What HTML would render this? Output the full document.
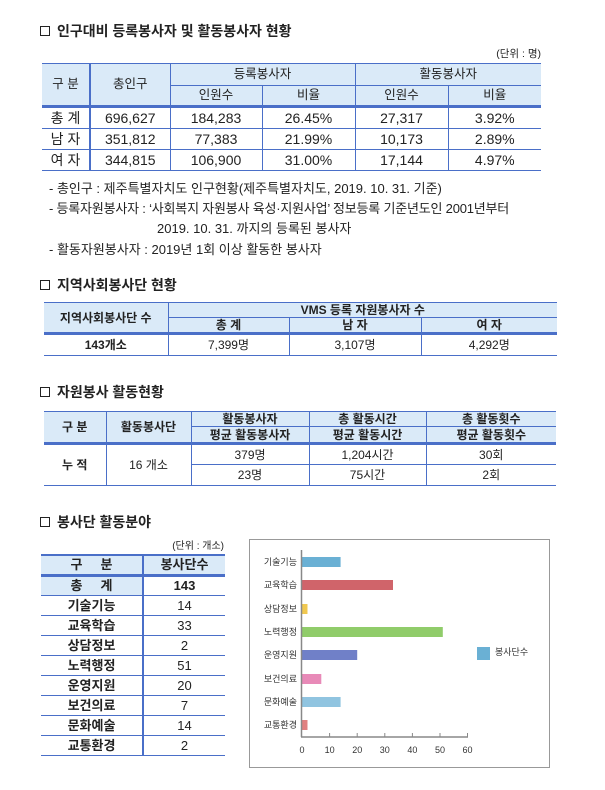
<!DOCTYPE html>
<html><head><meta charset="utf-8">
<style>
*{margin:0;padding:0;box-sizing:border-box}
body{width:605px;height:790px;background:#fff;position:relative;overflow:hidden;font-family:"Liberation Sans","Noto Sans CJK KR",sans-serif;color:#222}
.a{position:absolute;white-space:nowrap}
.t{font-size:14px;font-weight:bold;line-height:18px}
.sq{display:inline-block;width:10px;height:10px;border:1.3px solid #222;margin-right:7px;vertical-align:0px}
table{position:absolute;border-collapse:collapse;table-layout:fixed}
td{text-align:center;border-top:1px solid #4a6fc8;border-bottom:1px solid #4a6fc8;border-left:1px solid #4a6fc8;padding:0;font-size:13px;line-height:1}
td:first-child{border-left:none}
.h{background:#daeaf8}
.t1 td{font-size:14px}
.t1 td.h{font-size:12.5px}
</style></head><body>

<div class="a t" style="left:40px;top:22px"><span class="sq"></span>인구대비 등록봉사자 및 활동봉사자 현황</div>
<div class="a" style="left:470px;top:46px;font-size:10.5px;width:71px;text-align:right">(단위 : 명)</div>
<table class="t1" style="left:42px;top:63px;width:499px">
<colgroup><col style="width:48px"><col style="width:80px"><col style="width:92px"><col style="width:93px"><col style="width:93px"><col style="width:93px"></colgroup>
<tr style="height:22px"><td class="h" rowspan="2" style="border-right:2px solid #4a6fc8">구 분</td><td class="h" rowspan="2">총인구</td><td class="h" colspan="2">등록봉사자</td><td class="h" colspan="2">활동봉사자</td></tr>
<tr style="height:21px"><td class="h" style="border-left:1px solid #4a6fc8">인원수</td><td class="h">비율</td><td class="h">인원수</td><td class="h">비율</td></tr>
<tr style="height:22px"><td style="border-top:3px solid #4a6fc8;border-right:2px solid #4a6fc8">총 계</td><td style="border-top:3px solid #4a6fc8">696,627</td><td style="border-top:3px solid #4a6fc8">184,283</td><td style="border-top:3px solid #4a6fc8">26.45%</td><td style="border-top:3px solid #4a6fc8">27,317</td><td style="border-top:3px solid #4a6fc8">3.92%</td></tr>
<tr style="height:21px"><td style="border-right:2px solid #4a6fc8">남 자</td><td>351,812</td><td>77,383</td><td>21.99%</td><td>10,173</td><td>2.89%</td></tr>
<tr style="height:21px"><td style="border-right:2px solid #4a6fc8">여 자</td><td>344,815</td><td>106,900</td><td>31.00%</td><td>17,144</td><td>4.97%</td></tr>
</table>
<div class="a" style="left:49px;top:178px;font-size:13px">- 총인구 : 제주특별자치도 인구현황(제주특별자치도, 2019. 10. 31. 기준)</div>
<div class="a" style="left:49px;top:198px;font-size:13px;letter-spacing:-0.2px">- 등록자원봉사자 : ‘사회복지 자원봉사 육성·지원사업’ 정보등록 기준년도인 2001년부터</div>
<div class="a" style="left:157px;top:218px;font-size:13px">2019. 10. 31. 까지의 등록된 봉사자</div>
<div class="a" style="left:49px;top:239px;font-size:13px">- 활동자원봉사자 : 2019년 1회 이상 활동한 봉사자</div>

<div class="a t" style="left:40px;top:276px"><span class="sq"></span>지역사회봉사단 현황</div>
<table style="left:44px;top:302px;width:513px">
<colgroup><col style="width:124px"><col style="width:121px"><col style="width:132px"><col style="width:136px"></colgroup>
<tr style="height:15px"><td class="h" rowspan="2" style="font-weight:bold;font-size:12px">지역사회봉사단 수</td><td class="h" colspan="3" style="font-weight:bold;font-size:12px">VMS 등록 자원봉사자 수</td></tr>
<tr style="height:16px"><td class="h" style="font-weight:bold;font-size:12px;border-left:1px solid #4a6fc8">총 계</td><td class="h" style="font-weight:bold;font-size:12px">남 자</td><td class="h" style="font-weight:bold;font-size:12px">여 자</td></tr>
<tr style="height:22px"><td style="border-top:3px solid #4a6fc8;font-weight:bold;font-size:12px">143개소</td><td style="border-top:3px solid #4a6fc8;font-size:12px">7,399명</td><td style="border-top:3px solid #4a6fc8;font-size:12px">3,107명</td><td style="border-top:3px solid #4a6fc8;font-size:12px">4,292명</td></tr>
</table>

<div class="a t" style="left:40px;top:383px"><span class="sq"></span>자원봉사 활동현황</div>
<table style="left:44px;top:411px;width:512px">
<colgroup><col style="width:62px"><col style="width:85px"><col style="width:118px"><col style="width:117px"><col style="width:130px"></colgroup>
<tr style="height:15px"><td class="h" rowspan="2" style="font-weight:bold;font-size:12px">구 분</td><td class="h" rowspan="2" style="font-weight:bold;font-size:12px">활동봉사단</td><td class="h" style="font-weight:bold;font-size:12px">활동봉사자</td><td class="h" style="font-weight:bold;font-size:12px">총 활동시간</td><td class="h" style="font-weight:bold;font-size:12px">총 활동횟수</td></tr>
<tr style="height:17px"><td class="h" style="font-weight:bold;font-size:12px;border-left:1px solid #4a6fc8">평균 활동봉사자</td><td class="h" style="font-weight:bold;font-size:12px">평균 활동시간</td><td class="h" style="font-weight:bold;font-size:12px">평균 활동횟수</td></tr>
<tr style="height:21px"><td rowspan="2" style="border-top:3px solid #4a6fc8;font-weight:bold;font-size:12px">누 적</td><td rowspan="2" style="border-top:3px solid #4a6fc8;font-size:12px">16 개소</td><td style="border-top:3px solid #4a6fc8;font-size:12px">379명</td><td style="border-top:3px solid #4a6fc8;font-size:12px">1,204시간</td><td style="border-top:3px solid #4a6fc8;font-size:12px">30회</td></tr>
<tr style="height:21px"><td style="font-size:12px;border-left:1px solid #4a6fc8">23명</td><td style="font-size:12px">75시간</td><td style="font-size:12px">2회</td></tr>
</table>

<div class="a t" style="left:40px;top:513px"><span class="sq"></span>봉사단 활동분야</div>
<div class="a" style="left:150px;top:537px;font-size:10px;width:74px;text-align:right">(단위 : 개소)</div>
<table style="left:41px;top:554px;width:184px">
<colgroup><col style="width:102px"><col style="width:82px"></colgroup>
<tr style="height:20px"><td class="h" style="font-weight:bold;border-right:2px solid #4a6fc8;border-top:2px solid #4a6fc8">구 &nbsp;&nbsp;&nbsp;&nbsp;분</td><td class="h" style="font-weight:bold;border-top:2px solid #4a6fc8">봉사단수</td></tr>
<tr style="height:20px"><td class="h" style="font-weight:bold;border-top:3px solid #4a6fc8;border-right:2px solid #4a6fc8">총 &nbsp;&nbsp;&nbsp;&nbsp;계</td><td style="font-weight:bold;border-top:3px solid #4a6fc8">143</td></tr>
<tr style="height:20px"><td style="font-weight:bold;border-right:2px solid #4a6fc8">기술기능</td><td>14</td></tr>
<tr style="height:20px"><td style="font-weight:bold;border-right:2px solid #4a6fc8">교육학습</td><td>33</td></tr>
<tr style="height:20px"><td style="font-weight:bold;border-right:2px solid #4a6fc8">상담정보</td><td>2</td></tr>
<tr style="height:20px"><td style="font-weight:bold;border-right:2px solid #4a6fc8">노력행정</td><td>51</td></tr>
<tr style="height:20px"><td style="font-weight:bold;border-right:2px solid #4a6fc8">운영지원</td><td>20</td></tr>
<tr style="height:20px"><td style="font-weight:bold;border-right:2px solid #4a6fc8">보건의료</td><td>7</td></tr>
<tr style="height:20px"><td style="font-weight:bold;border-right:2px solid #4a6fc8">문화예술</td><td>14</td></tr>
<tr style="height:20px"><td style="font-weight:bold;border-right:2px solid #4a6fc8">교통환경</td><td>2</td></tr>
</table>

<svg class="a" style="left:0;top:0" width="605" height="790">
<rect x="249.5" y="539.5" width="300" height="228" fill="#fff" stroke="#999" stroke-width="1"/>
<g font-family="Liberation Sans, Noto Sans CJK KR, sans-serif" font-size="9" fill="#333" text-anchor="end">
<text x="297" y="565">기술기능</text>
<text x="297" y="588">교육학습</text>
<text x="297" y="612">상담정보</text>
<text x="297" y="635">노력행정</text>
<text x="297" y="658">운영지원</text>
<text x="297" y="682">보건의료</text>
<text x="297" y="705">문화예술</text>
<text x="297" y="728">교통환경</text>
</g>
<g>
<rect x="302" y="557" width="38.6" height="10" fill="#6ab0d4"/>
<rect x="302" y="580" width="91" height="10" fill="#d0646a"/>
<rect x="302" y="604" width="5.5" height="10" fill="#f0c850"/>
<rect x="302" y="627" width="140.8" height="10" fill="#90cc6a"/>
<rect x="302" y="650" width="55.2" height="10" fill="#7080c8"/>
<rect x="302" y="674" width="19.3" height="10" fill="#e88ab8"/>
<rect x="302" y="697" width="38.6" height="10" fill="#90c4e0"/>
<rect x="302" y="720" width="5.5" height="10" fill="#e08080"/>
</g>
<line x1="301.5" y1="550" x2="301.5" y2="737" stroke="#888" stroke-width="1.5"/>
<line x1="301" y1="737" x2="468" y2="737" stroke="#888" stroke-width="1.5"/>
<g stroke="#888"><line x1="329.6" y1="733" x2="329.6" y2="737"/><line x1="357.2" y1="733" x2="357.2" y2="737"/><line x1="384.8" y1="733" x2="384.8" y2="737"/><line x1="412.4" y1="733" x2="412.4" y2="737"/><line x1="440" y1="733" x2="440" y2="737"/><line x1="467.5" y1="733" x2="467.5" y2="737"/></g>
<g font-family="Liberation Sans, sans-serif" font-size="9" fill="#333" text-anchor="middle">
<text x="302" y="753">0</text><text x="329.6" y="753">10</text><text x="357.2" y="753">20</text><text x="384.8" y="753">30</text><text x="412.4" y="753">40</text><text x="440" y="753">50</text><text x="467.5" y="753">60</text>
</g>
<rect x="477" y="647" width="13" height="13" fill="#6ab0d4"/>
<text x="495" y="655" font-family="Liberation Sans, Noto Sans CJK KR, sans-serif" font-size="9" fill="#333">봉사단수</text>
</svg>
</body></html>
